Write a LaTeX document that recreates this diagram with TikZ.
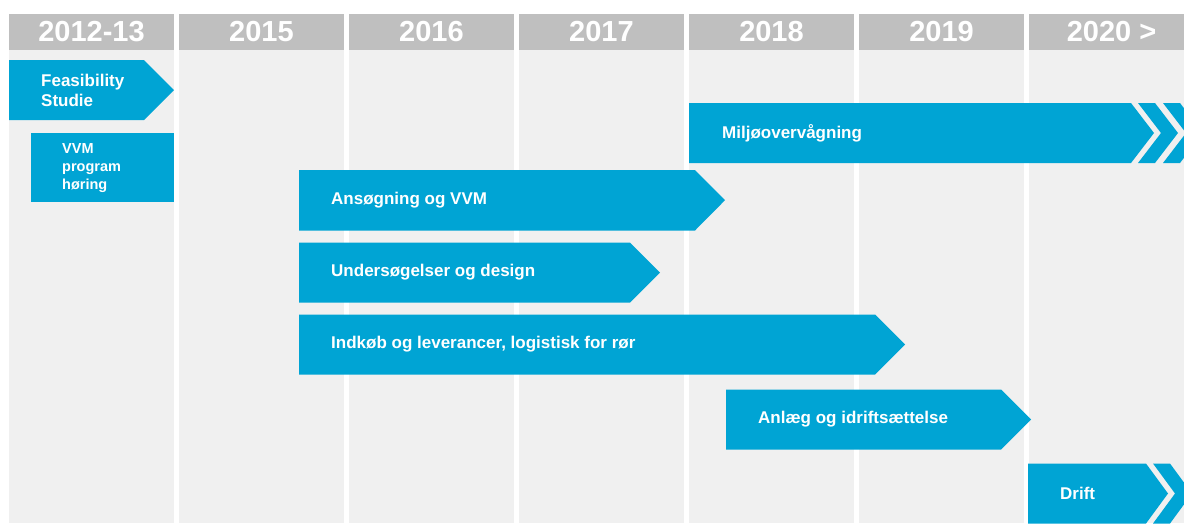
\documentclass[tikz,border=0pt]{standalone}
\usepackage{fontspec}
\setmainfont{Liberation Sans}
\usepackage{tikz}
\usetikzlibrary{positioning}

\definecolor{headgray}{HTML}{BFBFBF}
\definecolor{colgray}{HTML}{F0F0F0}
\definecolor{barblue}{RGB}{0,164,212}

\begin{document}
\begin{tikzpicture}[
  x=1pt, y=-1pt,
  year/.style={rectangle, fill=headgray, minimum width=165, minimum height=36, inner sep=0,
    text=white, font=\bfseries\fontsize{29}{30}\selectfont},
  col/.style={fill=colgray},
  bar/.style={fill=barblue},
  lbl/.style={anchor=west, inner sep=0, align=left, text=white,
    font=\bfseries\fontsize{17}{20}\selectfont},
]
  \useasboundingbox (0,0) rectangle (1184,523);
  \clip (0,0) rectangle (1184,523);

  \fill[col] (9,50) rectangle (174,523);
  \fill[col] (179,50) rectangle (344,523);
  \fill[col] (349,50) rectangle (514,523);
  \fill[col] (519,50) rectangle (684,523);
  \fill[col] (689,50) rectangle (854,523);
  \fill[col] (859,50) rectangle (1024,523);
  \fill[col] (1029,50) rectangle (1194,523);

  \node[year] (y12) at (91.5,32) {2012-13};
  \node[year] (y15) at (261.5,32) {2015};
  \node[year] (y16) at (431.5,32) {2016};
  \node[year] (y17) at (601.5,32) {2017};
  \node[year] (y18) at (771.5,32) {2018};
  \node[year] (y19) at (941.5,32) {2019};
  \node[year] (y20) at (1111.5,32) {2020 >};

  \fill[bar] (9,60) -- (144,60) -- (174,90) -- (144,120) -- (9,120) -- cycle;
  \node[lbl] (feas) at (41,90) {Feasibility\\Studie};

  \fill[bar] (31,133) rectangle (174,201.5);
  \node[lbl, font=\bfseries\fontsize{14.5}{18}\selectfont] (vvmprog) at (62,168) {VVM\\program\\høring};

  \fill[bar] (689,103) -- (1131,103) -- (1154,133) -- (1131,163) -- (689,163) -- cycle;
  \fill[bar] (1138,103) -- (1155,103) -- (1178,133) -- (1155,163) -- (1138,163) -- (1161,133) -- cycle;
  \fill[bar] (1163,103) -- (1180,103) -- (1203,133) -- (1180,163) -- (1163,163) -- (1186,133) -- cycle;
  \node[lbl] (miljo) at (722,133) {Miljøovervågning};

  \fill[bar] (299,170) -- (695,170) -- (725,200.2) -- (695,230.5) -- (299,230.5) -- cycle;
  \node[lbl] (ansog) at (331,200.2) {Ansøgning og VVM};

  \fill[bar] (299,242.5) -- (630,242.5) -- (660,272.5) -- (630,302.5) -- (299,302.5) -- cycle;
  \node[lbl] (unders) at (331,272.5) {Undersøgelser og design};

  \fill[bar] (299,314.5) -- (875,314.5) -- (905,344.5) -- (875,374.5) -- (299,374.5) -- cycle;
  \node[lbl] (indkob) at (331,344.5) {Indkøb og leverancer, logistisk for rør};

  \fill[bar] (726,389.5) -- (1001,389.5) -- (1031,419.5) -- (1001,449.5) -- (726,449.5) -- cycle;
  \node[lbl] (anlaeg) at (758,419.5) {Anlæg og idriftsættelse};

  \fill[bar] (1028,463.5) -- (1146,463.5) -- (1168,493.5) -- (1146,523.5) -- (1028,523.5) -- cycle;
  \fill[bar] (1153,463.5) -- (1170,463.5) -- (1192,493.5) -- (1170,523.5) -- (1153,523.5) -- (1175,493.5) -- cycle;
  \node[lbl] (drift) at (1060,493.5) {Drift};
\end{tikzpicture}
\end{document}
